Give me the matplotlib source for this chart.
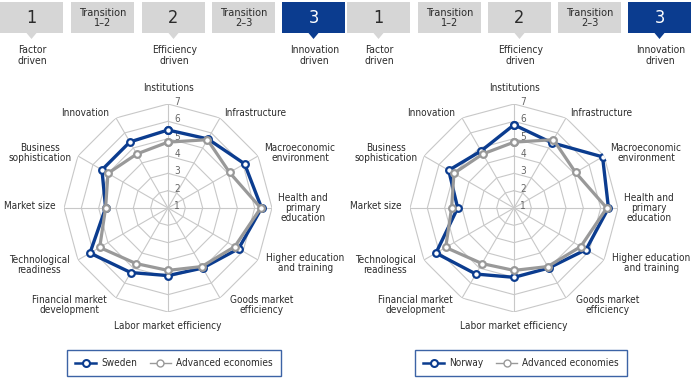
import numpy as np
import matplotlib
matplotlib.use("Agg")
import matplotlib.pyplot as plt
from matplotlib import font_manager as fm
from matplotlib.lines import Line2D
from matplotlib.patches import Rectangle, Polygon

# the original uses a condensed sans; take a narrow face if installed
names = {(f.name, f.stretch) for f in fm.fontManager.ttflist}
if any(n == 'Liberation Sans Narrow' for n, s in names):
    plt.rcParams['font.family'] = ['Liberation Sans Narrow', 'DejaVu Sans']
elif any(n == 'DejaVu Sans' and s in ('condensed', 'semi-condensed') for n, s in names):
    plt.rcParams['font.family'] = ['DejaVu Sans']
    plt.rcParams['font.stretch'] = 'condensed'

# pillars, clockwise from the top
pillars = ['Institutions', 'Infrastructure', 'Macroeconomic\nenvironment',
           'Health and\nprimary\neducation', 'Higher education\nand training',
           'Goods market\nefficiency', 'Labor market efficiency',
           'Financial market\ndevelopment', 'Technological\nreadiness',
           'Market size', 'Business\nsophistication', 'Innovation']
advanced = [4.8, 5.55, 5.1, 6.35, 5.45, 4.9, 4.6, 4.7, 5.55, 4.6, 5.0, 4.6]
sweden = [5.5, 5.6, 6.1, 6.4, 5.7, 5.0, 4.9, 5.3, 6.2, 4.6, 5.4, 5.4]
norway = [5.8, 5.35, 6.9, 6.45, 5.8, 5.0, 5.0, 5.4, 6.2, 4.25, 5.35, 4.8]
ticks = [1, 2, 3, 4, 5, 6, 7]

stages = ['1', 'Transition\n1–2', '2', 'Transition\n2–3', '3']
stage_notes = ['Factor\ndriven', '', 'Efficiency\ndriven', '', 'Innovation\ndriven']
current_stage = 4

NAVY = '#0b3c8f'
GREY = '#999999'
BOX = '#d6d6d6'
TXT = '#2b2b2b'
GRID = '#c8c8c8'
FS = 7.2

W, H = 691, 385
fig = plt.figure(figsize=(W / 100, H / 100), dpi=100)

# overlay in pixel coords for the stage banner
ov = fig.add_axes([0, 0, 1, 1])
ov.set_xlim(0, W)
ov.set_ylim(H, 0)
ov.axis('off')


def draw_banner(x_lefts):
    for i, (lab, note) in enumerate(zip(stages, stage_notes)):
        x = x_lefts[i]
        fc = NAVY if i == current_stage else BOX
        tc = 'white' if i == current_stage else TXT
        ov.add_patch(Rectangle((x, 2), 63, 31, fc=fc, ec='none'))
        cx = x + 31.5
        if note:
            ov.add_patch(Polygon([(cx - 5, 33), (cx + 5, 33), (cx, 39)],
                                 closed=True, fc=fc, ec='none'))
            ov.text(cx + 1, 55.5, note, ha='center', va='center',
                    fontsize=7.5, color=TXT, linespacing=1.05)
        if '\n' in lab:
            ov.text(cx, 17.5, lab, ha='center', va='center', fontsize=7.8,
                    color=tc, linespacing=1.0)
        else:
            ov.text(cx, 18, lab, ha='center', va='center', fontsize=13,
                    color=tc)


draw_banner([0, 71, 142, 212, 282])
draw_banner([347, 418, 488, 558, 628])

# label centres, in units of the outer radius, relative to the centre
label_off = [(0, 1.15), (0.84, 0.91), (1.27, 0.53), (1.30, 0.0),
             (1.32, -0.53), (0.90, -0.93), (0, -1.13), (-0.95, -0.93),
             (-1.24, -0.55), (-1.33, 0.02), (-1.23, 0.53), (-0.80, 0.91)]

angles = np.linspace(0, 2 * np.pi, len(pillars), endpoint=False)
closed = np.append(angles, angles[0])


def draw_radar(cx, country, name, lx):
    R = 104
    ax = fig.add_axes([(cx - R) / W, (H - 208 - R) / H, 2 * R / W, 2 * R / H],
                      projection='polar')
    ax.set_theta_zero_location('N')
    ax.set_theta_direction(-1)
    ax.set_ylim(1, 7)
    ax.grid(False)
    ax.spines['polar'].set_visible(False)
    ax.set_xticks([])
    ax.set_yticks([])
    ax.patch.set_alpha(0)

    for v in ticks[1:]:
        ax.plot(closed, [v] * len(closed), color=GRID, lw=0.8, zorder=1)
    for a in angles:
        ax.plot([a, a], [1, 7], color=GRID, lw=0.8, zorder=1)
    for v in ticks:
        ax.annotate(str(v), xy=(0, v), xytext=(4.5, 1.5),
                    textcoords='offset points', ha='left', va='center',
                    fontsize=FS, color='#666666')

    ax.plot(closed, country + country[:1], color=NAVY, lw=2.4, marker='o',
            ms=4.8, mfc='white', mec=NAVY, mew=1.6, zorder=3)
    ax.plot(closed, advanced + advanced[:1], color=GREY, lw=2.3, marker='o',
            ms=4.8, mfc='white', mec=GREY, mew=1.6, zorder=4)

    for lab, (ox, oy) in zip(pillars, label_off):
        ax.text(0.5 + 0.5 * ox, 0.5 + 0.5 * oy, lab, transform=ax.transAxes,
                ha='center', va='center', fontsize=FS, color=TXT,
                linespacing=1.05)

    handles = [Line2D([], [], color=NAVY, lw=1.8, marker='o', ms=5,
                      mfc='white', mec=NAVY, mew=1.5),
               Line2D([], [], color=GREY, lw=1.0, marker='o', ms=5,
                      mfc='white', mec=GREY, mew=1.0)]
    leg = fig.legend(handles, [name, 'Advanced economies'], ncol=2,
                     loc='upper left', bbox_to_anchor=(lx / W, 1 - 350 / H),
                     borderaxespad=0, fontsize=FS, frameon=True,
                     fancybox=False, edgecolor=NAVY, handlelength=2.1,
                     handletextpad=0.5, columnspacing=1.3, borderpad=0.8,
                     labelcolor=TXT)
    leg.get_frame().set_linewidth(1.0)
    return ax


draw_radar(168, sweden, 'Sweden', 67)
draw_radar(514, norway, 'Norway', 415)

fig.savefig('out.png', dpi=100, facecolor='white')
